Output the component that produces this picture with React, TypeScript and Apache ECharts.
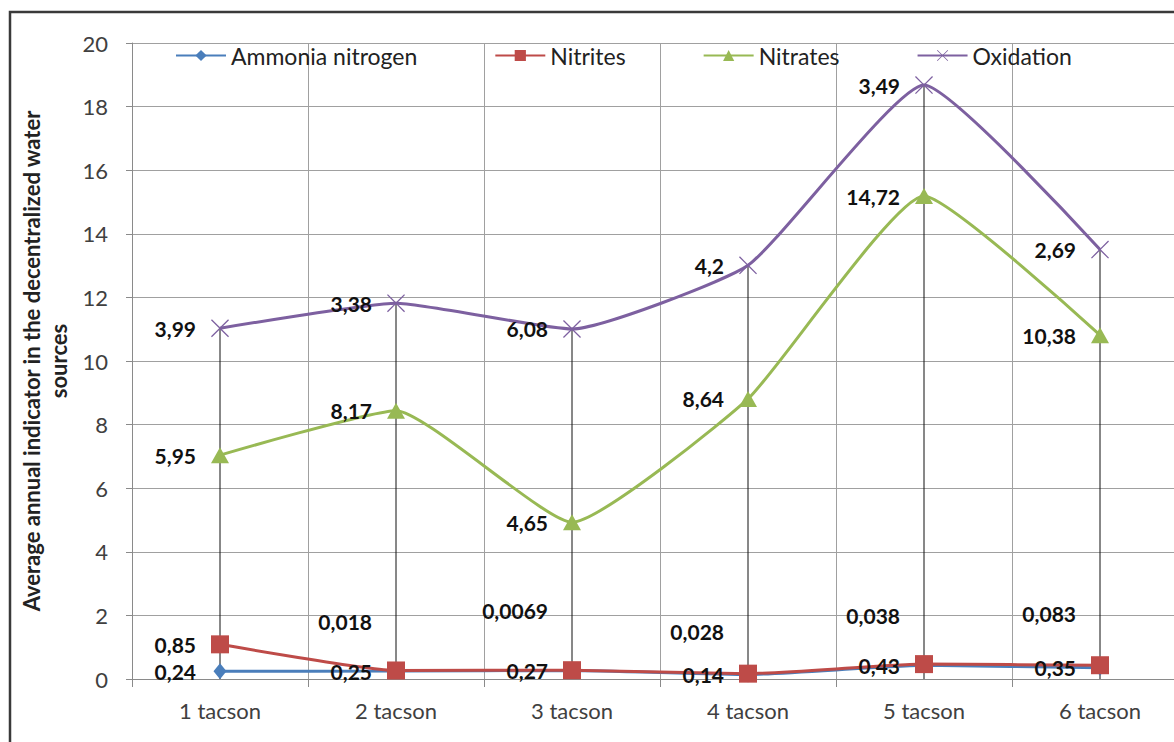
import React, { useEffect, useRef } from "react";
import * as echarts from "echarts";

const categories = ["1 tacson", "2 tacson", "3 tacson", "4 tacson", "5 tacson", "6 tacson"];
const ammonia = [0.24, 0.25, 0.27, 0.14, 0.43, 0.35];
const nitrites = [0.85, 0.018, 0.0069, 0.028, 0.038, 0.083];
const nitrates = [5.95, 8.17, 4.65, 8.64, 14.72, 10.38];
const oxidation = [3.99, 3.38, 6.08, 4.2, 3.49, 2.69];
const yTicks = { min: 0, max: 20, interval: 2 };
const seriesNames = ["Ammonia nitrogen", "Nitrites", "Nitrates", "Oxidation"];
const yAxisTitle = "Average annual indicator in the decentralized water\nsources";

// label layout (pixels), not data
const nitriteLabelShiftY = [0, -49, -60, -42, -49, -52];

const FONT = "Lato";
const xSymbol =
  "path://M0,1 L1,0 L10,9 L19,0 L20,1 L11,10 L20,19 L19,20 L10,11 L1,20 L0,19 L9,10 Z";

const fmt = (p: any) => {
  const v = typeof p.value === "object" ? p.value.value : p.value;
  return String(v).replace(".", ",");
};

const baseLabel = {
  show: true,
  position: "inside",
  align: "right",
  verticalAlign: "middle",
  offset: [-24, 0],
  fontSize: 21,
  fontWeight: "bold",
  fontFamily: FONT,
  color: "#111",
  formatter: fmt,
};

export default function App() {
  const ref = useRef<HTMLDivElement>(null);
  useEffect(() => {
    if (!ref.current) return;
    const chart = echarts.init(ref.current, undefined, { renderer: "svg" });
    const totals = categories.map(
      (_, i) => ammonia[i] + nitrites[i] + nitrates[i] + oxidation[i]
    );
    const mk = (
      name: string,
      data: any[],
      color: string,
      symbol: string,
      symbolSize: any
    ) => ({
      name,
      type: "line",
      stack: "total",
      smooth: 0.15,
      data,
      symbol,
      symbolSize,
      showAllSymbol: true,
      lineStyle: { color, width: 3 },
      itemStyle: { color, borderColor: color, borderWidth: 0 },
      label: baseLabel,
      z: 3,
    });
    chart.setOption({
      animation: false,
      backgroundColor: "#ffffff",
      textStyle: { fontFamily: FONT },
      graphic: [
        {
          type: "rect",
          shape: { x: 10, y: 12, width: 1220, height: 800 },
          style: { fill: "none", stroke: "#3a3a3a", lineWidth: 2.5 },
          z: 0,
        },
      ],
      grid: { left: 132, top: 43, width: 1056, height: 636 },
      legend: {
        data: seriesNames,
        left: 170,
        top: 39,
        itemGap: 77,
        itemWidth: 50,
        itemHeight: 14,
        textStyle: { fontSize: 23, color: "#222", fontFamily: FONT },
      },
      xAxis: {
        type: "category",
        data: categories,
        boundaryGap: true,
        axisLine: { show: true, lineStyle: { color: "#8a8a8a", width: 1 } },
        axisTick: { show: true, length: 8, lineStyle: { color: "#8a8a8a" } },
        splitLine: { show: true, lineStyle: { color: "#a0a0a0", width: 1 } },
        axisLabel: { fontSize: 22, color: "#404040", margin: 20, fontFamily: FONT },
      },
      yAxis: {
        type: "value",
        min: yTicks.min,
        max: yTicks.max,
        interval: yTicks.interval,
        name: yAxisTitle,
        nameLocation: "middle",
        nameGap: 57,
        nameTextStyle: {
          fontSize: 22,
          fontWeight: "bold",
          color: "#222",
          fontFamily: FONT,
          lineHeight: 27,
          align: "center",
        },
        axisLine: { show: true, lineStyle: { color: "#8a8a8a", width: 1 } },
        axisTick: { show: true, length: 6, lineStyle: { color: "#8a8a8a" } },
        splitLine: { show: true, lineStyle: { color: "#a0a0a0", width: 1 } },
        axisLabel: { fontSize: 22, color: "#404040", margin: 24, fontFamily: FONT },
      },
      series: [
        {
          name: "dropLines",
          type: "custom",
          data: totals.map((t, i) => [i, t]),
          z: 2,
          silent: true,
          renderItem: (params: any, api: any) => {
            const top = api.coord([api.value(0), api.value(1)]);
            const bot = api.coord([api.value(0), 0]);
            return {
              type: "line",
              shape: { x1: top[0], y1: top[1], x2: bot[0], y2: bot[1] },
              style: { stroke: "#111", lineWidth: 1 },
            };
          },
        },
        mk(seriesNames[0], ammonia, "#4A7EBB", "diamond", [13, 16]),
        mk(
          seriesNames[1],
          nitrites.map((v, i) => ({
            value: v,
            label: { offset: [-24, nitriteLabelShiftY[i]] },
          })),
          "#BE4B48",
          "rect",
          18
        ),
        mk(seriesNames[2], nitrates, "#98B954", "triangle", [18, 16]),
        mk(seriesNames[3], oxidation, "#7D60A0", xSymbol, 18),
      ],
    });
    return () => chart.dispose();
  }, []);
  return (
    <div
      ref={ref}
      style={{ position: "fixed", left: 0, top: 0, width: 1200, height: 742, background: "#fff" }}
    />
  );
}
